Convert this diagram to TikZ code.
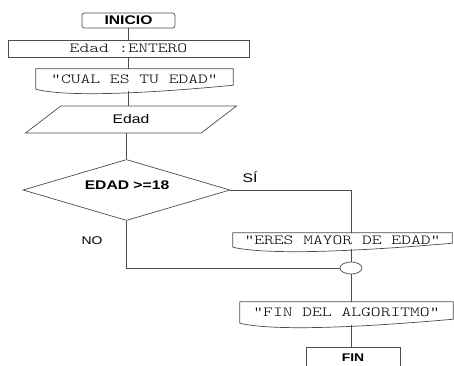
\documentclass[tikz,border=0pt]{standalone}
\usepackage{fontspec}
\setmainfont{Liberation Sans}[FakeStretch=1.25]
\setmonofont{Latin Modern Mono Light}[FakeStretch=1.35]
\usetikzlibrary{shapes.geometric,calc}

% contorno de documento (borde inferior ondulado)
\newcommand{\docborde}[1]{%
  \draw[linea] (#1.south west) -- (#1.north west) -- (#1.north east) -- ($(#1.south east)+(0,0.12cm)$)
    .. controls ($(#1.south)!0.5!(#1.south east)+(0,-0.02cm)$) and ($(#1.south)!0.6!(#1.south west)+(0,-0.3cm)$) .. (#1.south west);}

\begin{document}
\begin{tikzpicture}[x=0.03cm, y=-0.03cm,
    linea/.style={draw=black!70, line width=0.6pt},
    caja/.style={linea, rectangle, inner sep=0pt},
    doc/.style={rectangle, inner sep=0pt, font=\ttfamily\fontsize{11.8}{13}\selectfont},
    txt/.style={font=\fontsize{10.7}{13}\selectfont}]
  \path[use as bounding box, clip] (0,0) rectangle (454,365);

  % inicio y declaracion
  \node[caja, txt, rounded corners=2pt, minimum width=2.79cm, minimum height=0.45cm, font=\bfseries\fontsize{10.7}{13}\selectfont] (inicio) at (128.5,20.5) {INICIO};
  \node[caja, doc, minimum width=7.23cm, minimum height=0.51cm] (entero) at (128.5,48.5) {Edad :ENTERO};

  % salida y lectura
  \node[doc, minimum width=5.91cm, minimum height=0.6cm] (cual) at (134.5,79) {“CUAL ES TU EDAD”};
  \docborde{cual}
  \node[linea, txt, trapezium, trapezium left angle=45, trapezium right angle=135,
        trapezium stretches=true, minimum width=6.36cm, minimum height=0.81cm, inner sep=0pt] (leer) at (131,119.5) {Edad};

  % decision
  \node[linea, diamond, aspect=3.4, minimum width=6.21cm, minimum height=1.83cm, inner sep=0pt] (decision) at (126.5,190) {};
  \node[font=\bfseries\fontsize{10.7}{13}\selectfont] (cond) at (127,185) {EDAD >=18};
  \node[txt] (si) at (250,177) {SÍ};
  \node[font=\fontsize{9.5}{11}\selectfont] (no) at (92,241) {NO};

  \node[doc, minimum width=6.57cm, minimum height=0.42cm] (mayor) at (342.5,240) {“ERES MAYOR DE EDAD”};
  \docborde{mayor}
  \node[linea, ellipse, minimum width=0.66cm, minimum height=0.36cm, inner sep=0pt] (junta) at (351,268) {};

  % final
  \node[doc, minimum width=6.39cm, minimum height=0.63cm] (finalg) at (346.5,312.5) {“FIN DEL ALGORITMO”};
  \docborde{finalg}
  \node[caja, minimum width=2.82cm, minimum height=0.66cm, font=\bfseries\fontsize{9.5}{11}\selectfont] (fin) at (353,358) {FIN};

  % conectores
  \draw[linea] (inicio.south) -- (entero.north);
  \draw[linea] (entero.south) -- (entero.south |- cual.north);
  \draw[linea] ($(entero.south |- cual.south)+(0,-0.06cm)$) -- (entero.south |- leer.north);
  \draw[linea] (decision.north |- leer.south) -- (decision.north);
  \draw[linea] (decision.east) -| (junta.north |- mayor.north);
  \draw[linea] ($(junta.north |- mayor.south)+(0,-0.05cm)$) -- (junta.north);
  \draw[linea] (decision.south) |- (junta.west);
  \draw[linea] (junta.south) -- (junta.south |- finalg.north);
  \draw[linea] ($(junta.south |- finalg.south)+(0,-0.05cm)$) -- (junta.south |- fin.north);
\end{tikzpicture}
\end{document}
